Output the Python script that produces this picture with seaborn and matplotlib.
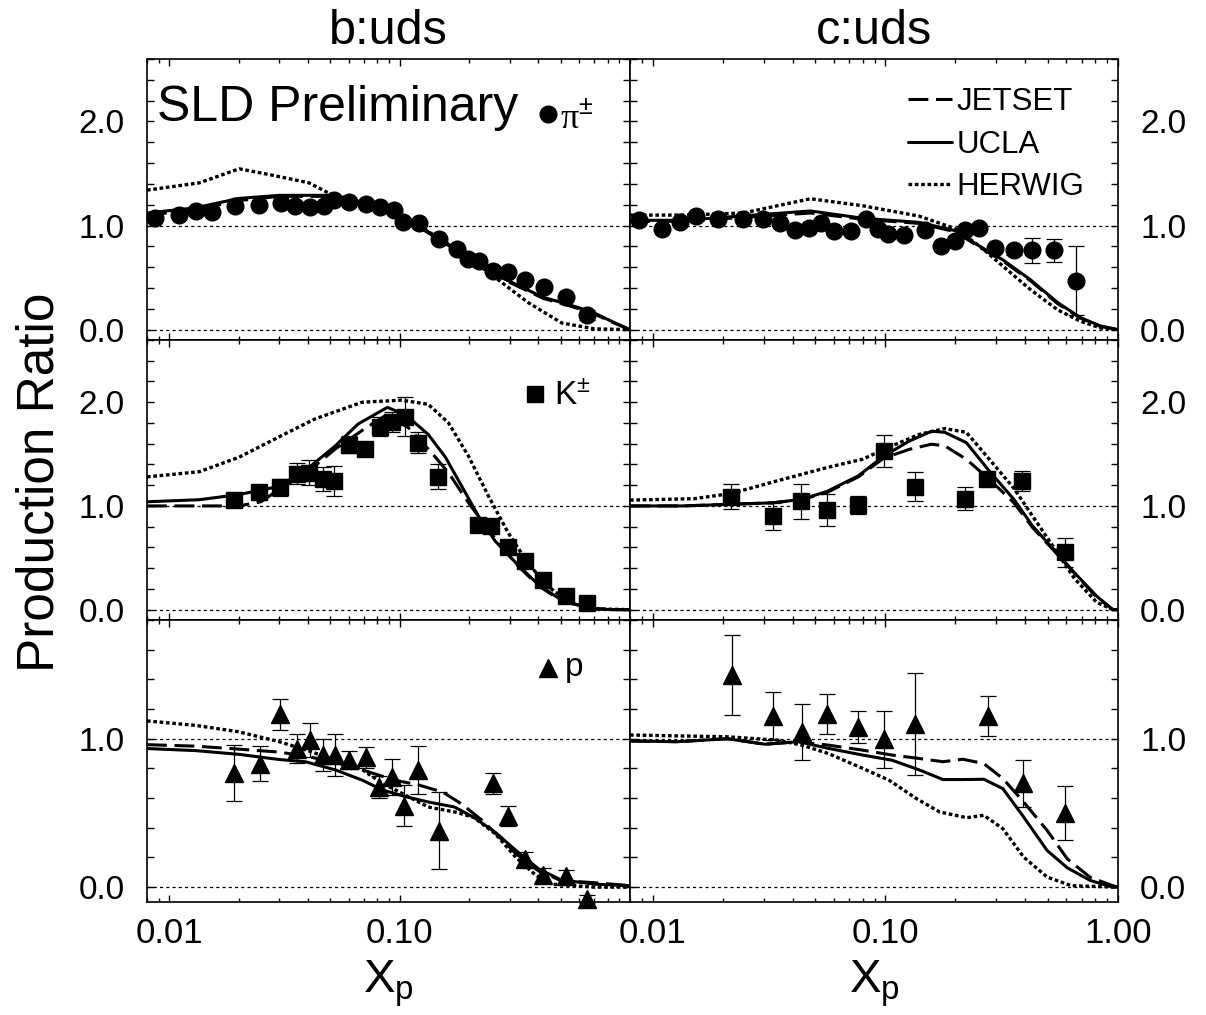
import numpy as np
import pandas as pd
import matplotlib
matplotlib.use('Agg')
import matplotlib.pyplot as plt
import seaborn as sns
from matplotlib.ticker import FixedLocator, FuncFormatter, LogLocator, NullFormatter
from matplotlib.lines import Line2D
from matplotlib import font_manager

# ---------------- data ----------------
# pi+- b:uds
x_pi_b = [0.0087, 0.011, 0.0131, 0.0153, 0.0193, 0.0245, 0.0305, 0.0353, 0.0408, 0.0469, 0.0518,
          0.060, 0.0711, 0.0825, 0.0942, 0.103, 0.121, 0.148, 0.177, 0.199, 0.220, 0.255, 0.296,
          0.350, 0.425, 0.530, 0.653]
r_pi_b = [1.07, 1.10, 1.14, 1.13, 1.19, 1.20, 1.22, 1.19, 1.18, 1.19, 1.25, 1.23, 1.21, 1.18,
          1.15, 1.03, 1.02, 0.87, 0.77, 0.68, 0.66, 0.56, 0.55, 0.48, 0.41, 0.31, 0.14]
e_pi_b = [0.02] * 26 + [0.05]
# pi+- c:uds
x_pi_c = [0.00875, 0.011, 0.0131, 0.0154, 0.0191, 0.0245, 0.0299, 0.0353, 0.0408, 0.0469, 0.0527,
          0.0605, 0.0711, 0.0825, 0.0927, 0.103, 0.120, 0.148, 0.174, 0.199, 0.220, 0.254, 0.297,
          0.356, 0.427, 0.530, 0.658]
r_pi_c = [1.05, 0.97, 1.035, 1.09, 1.06, 1.06, 1.06, 1.02, 0.955, 0.98, 1.02, 0.945, 0.945, 1.065,
          0.97, 0.92, 0.91, 0.96, 0.80, 0.85, 0.955, 0.98, 0.78, 0.76, 0.76, 0.76, 0.47]
e_pi_c = [0.02] * 23 + [0.04, 0.12, 0.11, 0.33]
# K+- b:uds
x_k_b = [0.0191, 0.0245, 0.0302, 0.0357, 0.0404, 0.0464, 0.0518, 0.0601, 0.0705, 0.0824, 0.0926,
         0.105, 0.120, 0.147, 0.218, 0.249, 0.294, 0.350, 0.420, 0.530, 0.653]
r_k_b = [1.06, 1.13, 1.18, 1.31, 1.32, 1.26, 1.24, 1.59, 1.55, 1.765, 1.81, 1.86, 1.61, 1.28,
         0.82, 0.805, 0.60, 0.47, 0.29, 0.13, 0.065]
e_k_b = [0.03, 0.05, 0.08, 0.10, 0.12, 0.12, 0.145, 0.08, 0.04, 0.09, 0.10, 0.19, 0.10, 0.12,
         0.03, 0.03, 0.03, 0.03, 0.02, 0.02, 0.02]
# K+- c:uds
x_k_c = [0.0218, 0.0328, 0.0436, 0.0562, 0.0766, 0.0984, 0.134, 0.220, 0.273, 0.386, 0.592]
r_k_c = [1.09, 0.90, 1.046, 0.957, 1.008, 1.53, 1.186, 1.07, 1.256, 1.24, 0.554]
e_k_c = [0.124, 0.13, 0.17, 0.155, 0.09, 0.15, 0.14, 0.11, 0.04, 0.10, 0.14]
# p b:uds
x_p_b = [0.0191, 0.0247, 0.0302, 0.0357, 0.0408, 0.0464, 0.0524, 0.0601, 0.0711, 0.0817, 0.0926,
         0.104, 0.120, 0.148, 0.254, 0.294, 0.350, 0.420, 0.530, 0.653]
r_p_b = [0.77, 0.833, 1.166, 0.934, 0.99, 0.89, 0.89, 0.855, 0.874, 0.676, 0.743, 0.55, 0.79,
         0.38, 0.70, 0.48, 0.19, 0.08, 0.074, -0.08]
e_p_b = [0.19, 0.115, 0.105, 0.10, 0.115, 0.11, 0.14, 0.06, 0.07, 0.073, 0.12, 0.14, 0.16,
         0.26, 0.07, 0.07, 0.05, 0.05, 0.04, 0.03]
# p c:uds
x_p_c = [0.022, 0.0328, 0.0438, 0.0562, 0.0766, 0.0984, 0.134, 0.275, 0.389, 0.592]
r_p_c = [1.43, 1.153, 1.047, 1.166, 1.08, 0.995, 1.10, 1.153, 0.70, 0.50]
e_p_c = [0.27, 0.163, 0.19, 0.137, 0.11, 0.19, 0.345, 0.135, 0.158, 0.18]

# ---- model curves ----
# pi b:uds
xh_pi_b = [0.008, 0.0135, 0.0201, 0.0271, 0.0404, 0.0493, 0.06, 0.075, 0.09, 0.1, 0.12, 0.15, 0.2,
           0.26, 0.361, 0.505, 0.70, 1.0]
yh_pi_b = [1.34, 1.41, 1.545, 1.49, 1.41, 1.31, 1.26, 1.20, 1.14, 1.07, 1.0, 0.87, 0.69, 0.50,
           0.26, 0.064, 0.007, 0.0]
xu_pi_b = [0.008, 0.013, 0.02, 0.03, 0.049, 0.06, 0.075, 0.09, 0.1, 0.12, 0.15, 0.2, 0.26, 0.33,
           0.42, 0.505, 0.6, 0.7, 0.86, 1.0]
yu_pi_b = [1.12, 1.17, 1.26, 1.29, 1.29, 1.25, 1.20, 1.14, 1.07, 1.0, 0.87, 0.69, 0.53, 0.42,
           0.31, 0.26, 0.21, 0.16, 0.064, 0.0]
xj_pi_b = xu_pi_b
yj_pi_b = [1.10, 1.15, 1.24, 1.28, 1.28, 1.24, 1.19, 1.13, 1.06, 0.99, 0.86, 0.68, 0.52, 0.41,
           0.30, 0.25, 0.20, 0.15, 0.06, 0.0]
# pi c:uds
xh_pi_c = [0.008, 0.0135, 0.0245, 0.0477, 0.08, 0.14, 0.2, 0.255, 0.32, 0.42, 0.55, 0.69, 0.84, 1.0]
yh_pi_c = [1.10, 1.10, 1.12, 1.257, 1.19, 1.09, 0.97, 0.80, 0.61, 0.385, 0.19, 0.08, 0.016, 0.0]
xu_pi_c = [0.008, 0.0135, 0.0477, 0.08, 0.14, 0.2, 0.255, 0.32, 0.42, 0.55, 0.69, 0.84, 1.0]
yu_pi_c = [1.05, 1.05, 1.14, 1.07, 1.03, 0.95, 0.80, 0.67, 0.48, 0.26, 0.115, 0.035, 0.0]
xj_pi_c = xu_pi_c
yj_pi_c = [1.04, 1.04, 1.12, 1.06, 1.02, 0.94, 0.79, 0.66, 0.47, 0.25, 0.11, 0.03, 0.0]
# K b:uds
xh_k_b = [0.008, 0.0135, 0.0201, 0.0302, 0.043, 0.0687, 0.102, 0.133, 0.163, 0.199, 0.243, 0.296,
          0.36, 0.44, 0.55, 0.70, 1.0]
yh_k_b = [1.28, 1.33, 1.47, 1.67, 1.84, 2.0, 2.02, 1.98, 1.80, 1.48, 1.095, 0.74, 0.45, 0.225,
          0.065, 0.007, 0.0]
xu_k_b = [0.008, 0.0135, 0.0201, 0.0302, 0.0404, 0.0526, 0.066, 0.0884, 0.106, 0.133, 0.158, 0.186,
          0.22, 0.26, 0.32, 0.40, 0.50, 0.66, 0.82, 1.0]
yu_k_b = [1.04, 1.06, 1.11, 1.19, 1.37, 1.58, 1.79, 1.95, 1.88, 1.69, 1.47, 1.19, 0.90, 0.66,
          0.45, 0.24, 0.097, 0.016, 0.0, 0.0]
xj_k_b = [0.008, 0.02, 0.025, 0.030, 0.040, 0.0526, 0.07, 0.088, 0.109, 0.138, 0.163, 0.199, 0.243,
          0.32, 0.40, 0.50, 0.66, 0.82, 1.0]
yj_k_b = [1.0, 1.0, 1.04, 1.16, 1.33, 1.55, 1.74, 1.88, 1.755, 1.51, 1.32, 1.03, 0.77, 0.44, 0.23,
          0.09, 0.015, 0.0, 0.0]
# K c:uds
xh_k_c = [0.008, 0.0151, 0.0218, 0.0328, 0.0562, 0.0798, 0.107, 0.14, 0.18, 0.223, 0.28, 0.357,
          0.43, 0.53, 0.65, 0.81, 0.95, 1.0]
yh_k_c = [1.056, 1.07, 1.12, 1.23, 1.37, 1.45, 1.58, 1.69, 1.746, 1.71, 1.45, 1.17, 0.90, 0.60,
          0.30, 0.07, 0.0, 0.0]
xu_k_c = [0.008, 0.0135, 0.0328, 0.0436, 0.0562, 0.0766, 0.0984, 0.127, 0.158, 0.18, 0.223, 0.28,
          0.357, 0.43, 0.53, 0.65, 0.81, 0.95, 1.0]
yu_k_c = [1.0, 1.0, 1.03, 1.063, 1.14, 1.29, 1.48, 1.626, 1.72, 1.71, 1.61, 1.336, 1.063, 0.805,
          0.58, 0.355, 0.13, 0.0, 0.0]
xj_k_c = xu_k_c
yj_k_c = [1.0, 1.0, 1.03, 1.06, 1.13, 1.28, 1.46, 1.546, 1.595, 1.58, 1.45, 1.256, 1.03, 0.79,
          0.57, 0.35, 0.12, 0.0, 0.0]
# p b:uds
xh_p_b = [0.008, 0.013, 0.02, 0.030, 0.040, 0.0526, 0.069, 0.084, 0.106, 0.133, 0.173, 0.21, 0.26,
          0.32, 0.39, 0.46, 0.70, 1.0]
yh_p_b = [1.12, 1.09, 1.047, 0.98, 0.92, 0.855, 0.79, 0.70, 0.62, 0.54, 0.507, 0.47, 0.36, 0.20,
          0.08, 0.02, 0.0, 0.0]
xu_p_b = [0.008, 0.013, 0.02, 0.03, 0.039, 0.0526, 0.069, 0.084, 0.106, 0.133, 0.173, 0.21, 0.26,
          0.32, 0.40, 0.50, 0.70, 1.0]
yu_p_b = [0.934, 0.92, 0.895, 0.86, 0.845, 0.79, 0.72, 0.655, 0.61, 0.574, 0.54, 0.47, 0.37,
          0.247, 0.124, 0.05, 0.02, 0.01]
xj_p_b = [0.008, 0.013, 0.02, 0.03, 0.04, 0.0526, 0.069, 0.0955, 0.12, 0.154, 0.186, 0.228, 0.27,
          0.32, 0.40, 0.50, 0.70, 1.0]
yj_p_b = [0.96, 0.95, 0.93, 0.91, 0.88, 0.84, 0.79, 0.72, 0.69, 0.64, 0.56, 0.45, 0.34, 0.225,
          0.11, 0.045, 0.03, 0.01]
# p c:uds
xh_p_c = [0.008, 0.0211, 0.0348, 0.0438, 0.057, 0.08, 0.104, 0.136, 0.171, 0.224, 0.265, 0.32,
          0.393, 0.496, 0.63, 1.0]
yh_p_c = [1.025, 1.013, 0.99, 0.957, 0.90, 0.80, 0.72, 0.597, 0.507, 0.468, 0.484, 0.394, 0.203,
          0.068, 0.01, 0.0]
xu_p_c = [0.008, 0.0128, 0.021, 0.0304, 0.0425, 0.057, 0.08, 0.107, 0.14, 0.177, 0.215, 0.265,
          0.32, 0.393, 0.496, 0.606, 0.76, 0.95, 1.0]
yu_p_c = [0.985, 0.98, 1.0, 0.963, 0.98, 0.935, 0.89, 0.855, 0.79, 0.725, 0.725, 0.727, 0.664,
          0.473, 0.247, 0.13, 0.045, 0.0, 0.0]
xj_p_c = xu_p_c
yj_p_c = [0.985, 0.98, 1.0, 0.963, 0.98, 0.957, 0.923, 0.89, 0.867, 0.845, 0.862, 0.833, 0.732,
          0.574, 0.382, 0.19, 0.066, 0.01, 0.0]

columns = ["b:uds", "c:uds"]
xtick_vals = [0.01, 0.1, 1.0]
model_names = ["JETSET", "UCLA", "HERWIG"]

panels = [
    [(x_pi_b, r_pi_b, e_pi_b, xj_pi_b, yj_pi_b, xu_pi_b, yu_pi_b, xh_pi_b, yh_pi_b),
     (x_pi_c, r_pi_c, e_pi_c, xj_pi_c, yj_pi_c, xu_pi_c, yu_pi_c, xh_pi_c, yh_pi_c)],
    [(x_k_b, r_k_b, e_k_b, xj_k_b, yj_k_b, xu_k_b, yu_k_b, xh_k_b, yh_k_b),
     (x_k_c, r_k_c, e_k_c, xj_k_c, yj_k_c, xu_k_c, yu_k_c, xh_k_c, yh_k_c)],
    [(x_p_b, r_p_b, e_p_b, xj_p_b, yj_p_b, xu_p_b, yu_p_b, xh_p_b, yh_p_b),
     (x_p_c, r_p_c, e_p_c, xj_p_c, yj_p_c, xu_p_c, yu_p_c, xh_p_c, yh_p_c)],
]
markers = ['o', 's', '^']
msizes = [12, 11, 13]
ylims = [(-0.1, 2.6), (-0.1, 2.6), (-0.1, 1.8)]
ylabel_vals = [[0.0, 1.0, 2.0], [0.0, 1.0, 2.0], [0.0, 1.0]]

# ---------------- style ----------------
sns.set_theme(style='ticks')
plt.rcParams['font.family'] = ['Liberation Sans', 'DejaVu Sans']
plt.rcParams['mathtext.fontset'] = 'custom'
plt.rcParams['mathtext.rm'] = 'Liberation Sans'
plt.rcParams['mathtext.it'] = 'Liberation Sans'
for k in ['text.color', 'axes.labelcolor', 'xtick.color', 'ytick.color', 'axes.edgecolor']:
    plt.rcParams[k] = 'black'

available = {f.name for f in font_manager.fontManager.ttflist}
NARROW = [f for f in ['Liberation Sans Narrow', 'DejaVu Sans Condensed'] if f in available]
NARROW = NARROW + ['Liberation Sans', 'DejaVu Sans']

ls_j = (0, (6.5, 2.5))
ls_u = '-'
ls_h = (0, (1.1, 0.8))
curve_styles = [(ls_j, 2.2), (ls_u, 2.2), (ls_h, 2.4)]

W, H = 1206, 1015
fig = plt.figure(figsize=(W / 100, H / 100), dpi=100)
col_px = [147, 630, 1118]
row_px = [59, 340, 620, 902]

axes = []
for r in range(3):
    row = []
    for c in range(2):
        x0 = col_px[c] / W
        w = (col_px[c + 1] - col_px[c]) / W
        y0 = 1 - row_px[r + 1] / H
        h = (row_px[r + 1] - row_px[r]) / H
        ax = fig.add_axes([x0, y0, w, h])
        row.append(ax)
    axes.append(row)

for r in range(3):
    for c in range(2):
        ax = axes[r][c]
        xd, yd, ed, xj, yj, xu, yu, xh, yh = panels[r][c]
        ax.set_xscale('log')
        ax.set_xlim(0.008, 1.0)
        ax.set_ylim(*ylims[r])
        ax.axhline(0.0, color='black', lw=0.9, ls=(0, (2.5, 2.5)), zorder=1)
        ax.axhline(1.0, color='black', lw=0.9, ls=(0, (2.5, 2.5)), zorder=1)
        for (xs, ys), (ls, lw), name in zip([(xj, yj), (xu, yu), (xh, yh)], curve_styles, model_names):
            df = pd.DataFrame({'x': xs, 'y': ys})
            sns.lineplot(data=df, x='x', y='y', ax=ax, color='black', lw=lw, linestyle=ls,
                         estimator=None, sort=False, label=name, legend=False, zorder=3)
        ax.errorbar(xd, yd, yerr=ed, fmt=markers[r], ms=msizes[r], color='black', mec='black',
                    ecolor='black', elinewidth=0.9, capsize=5.5, capthick=0.9, zorder=4,
                    clip_on=False)
        # ticks
        ax.xaxis.set_major_locator(FixedLocator(xtick_vals))
        ax.xaxis.set_minor_locator(LogLocator(base=10, subs=np.arange(2, 10)))
        ax.xaxis.set_minor_formatter(NullFormatter())
        if c == 0:
            ax.xaxis.set_major_formatter(FuncFormatter(
                lambda v, p: {0.01: "0.01", 0.1: "0.10"}.get(round(v, 3), "")))
        else:
            ax.xaxis.set_major_formatter(FuncFormatter(
                lambda v, p: {0.01: "0.01", 0.1: "0.10", 1.0: "1.00"}.get(round(v, 3), "")))
        yt = np.round(np.arange(0, ylims[r][1] + 1e-6, 0.2), 1)
        ax.yaxis.set_major_locator(FixedLocator(yt))
        labs = ylabel_vals[r]
        ax.yaxis.set_major_formatter(FuncFormatter(
            lambda v, p, labs=labs: f"{v:.1f}" if any(abs(v - l) < 1e-6 for l in labs) else ""))
        ax.tick_params(which='both', direction='in', top=True, bottom=True, left=True, right=True,
                       width=1.0, color='black')
        ax.tick_params(which='major', length=5)
        ax.tick_params(which='minor', length=3)
        ax.tick_params(axis='y', which='both', labelsize=24, pad=16)
        ax.tick_params(axis='x', which='both', labelsize=25, pad=11)
        if c == 0:
            ax.tick_params(axis='y', labelleft=True, labelright=False)
        else:
            ax.tick_params(axis='y', labelleft=False, labelright=True)
        if r < 2:
            ax.tick_params(axis='x', labelbottom=False)
        for s in ax.spines.values():
            s.set_linewidth(1.2)
            s.set_color('black')
        ax.set_xlabel('')
        ax.set_ylabel('')
        ax.grid(False)

# column titles / x labels
for c in range(2):
    axes[0][c].set_title(columns[c], fontsize=35, pad=11)
    axes[2][c].set_xlabel(r'X$_{\rm p}$', fontsize=34, labelpad=6, family=NARROW)
    for lab in axes[2][c].get_xticklabels():
        lab.set_family(NARROW)

fig.text(0.033, 0.525, 'Production Ratio', rotation=90, fontsize=37, ha='center', va='center')

# annotations
ax = axes[0][0]
ax.text(0.02, 2.0, 'SLD Preliminary', transform=ax.get_yaxis_transform(), fontsize=36,
        ha='left', va='baseline')
ax.plot([0.830], [2.07], marker='o', ms=12, color='black', transform=ax.get_yaxis_transform())
ax.text(0.855, 1.93, r'π$^{\pm}$', transform=ax.get_yaxis_transform(), fontsize=26,
        ha='left', va='baseline', family=['Liberation Serif', 'DejaVu Serif'])
ax = axes[1][0]
ax.plot([0.803], [2.08], marker='s', ms=11, color='black', transform=ax.get_yaxis_transform())
ax.text(0.843, 1.97, r'K$^{\pm}$', transform=ax.get_yaxis_transform(), fontsize=24,
        ha='left', va='baseline')
ax = axes[2][0]
ax.plot([0.830], [1.475], marker='^', ms=13, color='black', transform=ax.get_yaxis_transform())
ax.text(0.865, 1.42, 'p', transform=ax.get_yaxis_transform(), fontsize=24,
        ha='left', va='baseline')

# legend
ax = axes[0][1]
handles = [Line2D([], [], color='black', lw=lw, ls=ls) for (ls, lw) in curve_styles]
ax.legend(handles, model_names, loc='upper left', bbox_to_anchor=(0.57, 0.90), frameon=False,
          fontsize=22.5, handlelength=1.4, handletextpad=0.15, labelspacing=0.4, borderpad=0,
          borderaxespad=0)

fig.savefig('out.png', dpi=100)
